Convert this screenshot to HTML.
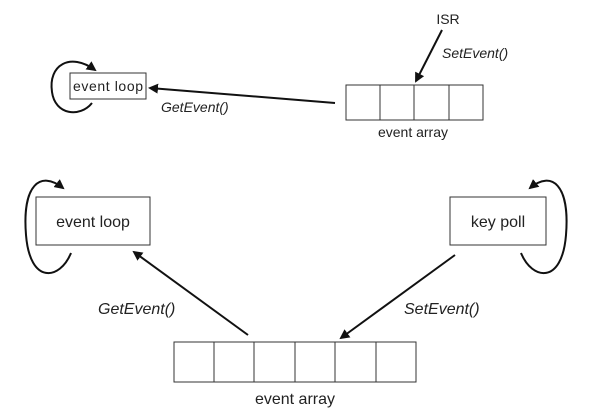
<!DOCTYPE html>
<html><head><style>body{margin:0;background:#fff}svg{display:block}</style></head><body>
<svg width="615" height="416" xmlns="http://www.w3.org/2000/svg" font-family="Liberation Sans, sans-serif" fill="#222">
<defs><marker id="a" markerWidth="10" markerHeight="10" refX="8" refY="5" orient="auto" markerUnits="userSpaceOnUse"><path d="M0,0 L10,5 L0,10 z" fill="#111"/></marker></defs>
<g stroke="#333" fill="none" stroke-width="1">
<rect x="70" y="73" width="76" height="26"/>
<rect x="346" y="85" width="137" height="35"/>
<line x1="380" y1="85" x2="380" y2="120"/><line x1="414" y1="85" x2="414" y2="120"/><line x1="449" y1="85" x2="449" y2="120"/>
<rect x="36" y="197" width="114" height="48"/>
<rect x="450" y="197" width="96" height="48"/>
<rect x="174" y="342" width="242" height="40"/>
<line x1="214" y1="342" x2="214" y2="382"/><line x1="254" y1="342" x2="254" y2="382"/><line x1="295" y1="342" x2="295" y2="382"/><line x1="335" y1="342" x2="335" y2="382"/><line x1="376" y1="342" x2="376" y2="382"/>
</g>
<g stroke="#111" fill="none" stroke-width="2">
<line x1="442" y1="30" x2="416" y2="81" marker-end="url(#a)"/>
<line x1="335" y1="103" x2="150" y2="88" marker-end="url(#a)"/>
<line x1="248" y1="335" x2="134" y2="252" marker-end="url(#a)"/>
<line x1="455" y1="255" x2="341" y2="338" marker-end="url(#a)"/>
<path d="M92,103 C80,118 55,115 52,92 C48,65 70,52 95,70" marker-end="url(#a)"/>
<path d="M71,253 C60,280 30,285 26,235 C22,185 40,170 63,188" marker-end="url(#a)"/>
<path d="M521,253 C532,280 562,285 566,235 C570,185 552,170 530,188" marker-end="url(#a)"/>
</g>
<g font-size="14">
<text x="108" y="91" text-anchor="middle" textLength="70">event loop</text>
<text x="413" y="137" text-anchor="middle">event array</text>
<text x="448" y="24" text-anchor="middle">ISR</text>
<text x="442" y="58" font-style="italic">SetEvent()</text>
<text x="161" y="112" font-style="italic">GetEvent()</text>
</g>
<g font-size="16">
<text x="93" y="227" text-anchor="middle">event loop</text>
<text x="498" y="227" text-anchor="middle">key poll</text>
<text x="295" y="404" text-anchor="middle">event array</text>
<text x="98" y="314" font-style="italic">GetEvent()</text>
<text x="404" y="314" font-style="italic">SetEvent()</text>
</g>
</svg>
</body></html>
